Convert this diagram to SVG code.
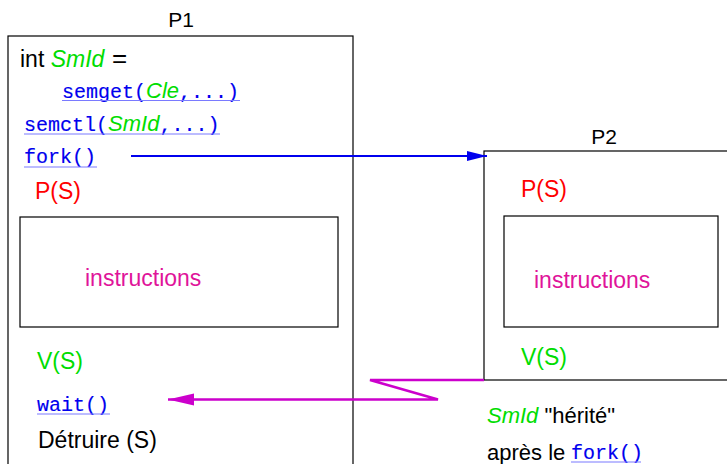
<svg xmlns="http://www.w3.org/2000/svg" width="727" height="464" viewBox="0 0 727 464">
<style>
.box{fill:none;stroke:#000;stroke-width:1.2}
.sans{font-family:"Liberation Sans",Arial,sans-serif;font-size:23px}
.mono{font-family:"Liberation Mono","Courier New",monospace;font-size:20px;fill:#0000ee;stroke:#0000ee;stroke-width:0.15}
.it{font-style:italic;fill:#00dd00;stroke:none;font-family:"Liberation Sans",Arial,sans-serif;font-size:22px}
.red{fill:#ff0000}
.grn{fill:#00dd00}
.mag{fill:#e0149a}
.ul{stroke:#7a7aff;stroke-width:1.2}
</style>
<defs>
<marker id="ab" markerWidth="20" markerHeight="12" refX="20" refY="6" orient="auto" markerUnits="userSpaceOnUse"><path d="M0,1 L20,6 L0,11 Z" fill="#0000ee"/></marker>
<marker id="am" markerWidth="26" markerHeight="14" refX="26" refY="7" orient="auto" markerUnits="userSpaceOnUse"><path d="M0,1 L26,7 L0,13 Z" fill="#cc00cc"/></marker>
</defs>
<rect width="727" height="464" fill="#fff"/>
<g id="P1">
<text class="sans" x="181" y="27" text-anchor="middle" fill="#000" style="font-size:21px">P1</text>
<rect class="box" x="8" y="36" width="345" height="440"/>
<text class="sans" x="20" y="67" fill="#000">int <tspan class="it" style="font-size:23px">SmId</tspan></text>
<text class="sans" x="112" y="67" fill="#000" style="font-size:26px">=</text>
<text class="mono" x="62" y="98">semget(<tspan class="it">Cle</tspan>,...)</text>
<line class="ul" x1="62" y1="100.5" x2="240" y2="100.5"/>
<text class="mono" x="24" y="131">semctl(<tspan class="it">SmId</tspan>,...)</text>
<line class="ul" x1="24" y1="134" x2="220" y2="134"/>
<text class="mono" x="24" y="163">fork()</text>
<line class="ul" x1="24" y1="167" x2="97" y2="167"/>
<text class="sans red" x="35" y="199">P(S)</text>
<rect class="box" x="20" y="217" width="318" height="110"/>
<text class="sans mag" x="85" y="286">instructions</text>
<text class="sans grn" x="37" y="369">V(S)</text>
<text class="mono" x="37" y="411">wait()</text>
<line class="ul" x1="37" y1="414" x2="110" y2="414"/>
<text class="sans" x="38" y="448" fill="#000">Détruire (S)</text>
</g>
<g id="P2">
<text class="sans" x="604" y="144" text-anchor="middle" fill="#000" style="font-size:21px">P2</text>
<rect class="box" x="484" y="151" width="260" height="229"/>
<text class="sans red" x="521" y="197">P(S)</text>
<rect class="box" x="504" y="216" width="214" height="111"/>
<text class="sans mag" x="534" y="288">instructions</text>
<text class="sans grn" x="521" y="365">V(S)</text>
</g>
<g id="label">
<text class="sans" x="487" y="423" fill="#000" style="font-size:22px"><tspan class="it" style="font-size:22px">SmId</tspan> "hérité"</text>
<text class="sans" x="487" y="460" fill="#000" style="font-size:22px">après le</text>
<text class="mono" x="571" y="459">fork()</text>
<line class="ul" x1="571" y1="462" x2="641" y2="462"/>
</g>
<g id="connectors">
<line x1="131" y1="156" x2="487" y2="156" stroke="#0000ee" stroke-width="2.2" marker-end="url(#ab)"/>
<polyline points="484,380 370,380 438,399.5 168,399.5" fill="none" stroke="#cc00cc" stroke-width="2.5" stroke-linejoin="miter" marker-end="url(#am)"/>
</g>
</svg>
